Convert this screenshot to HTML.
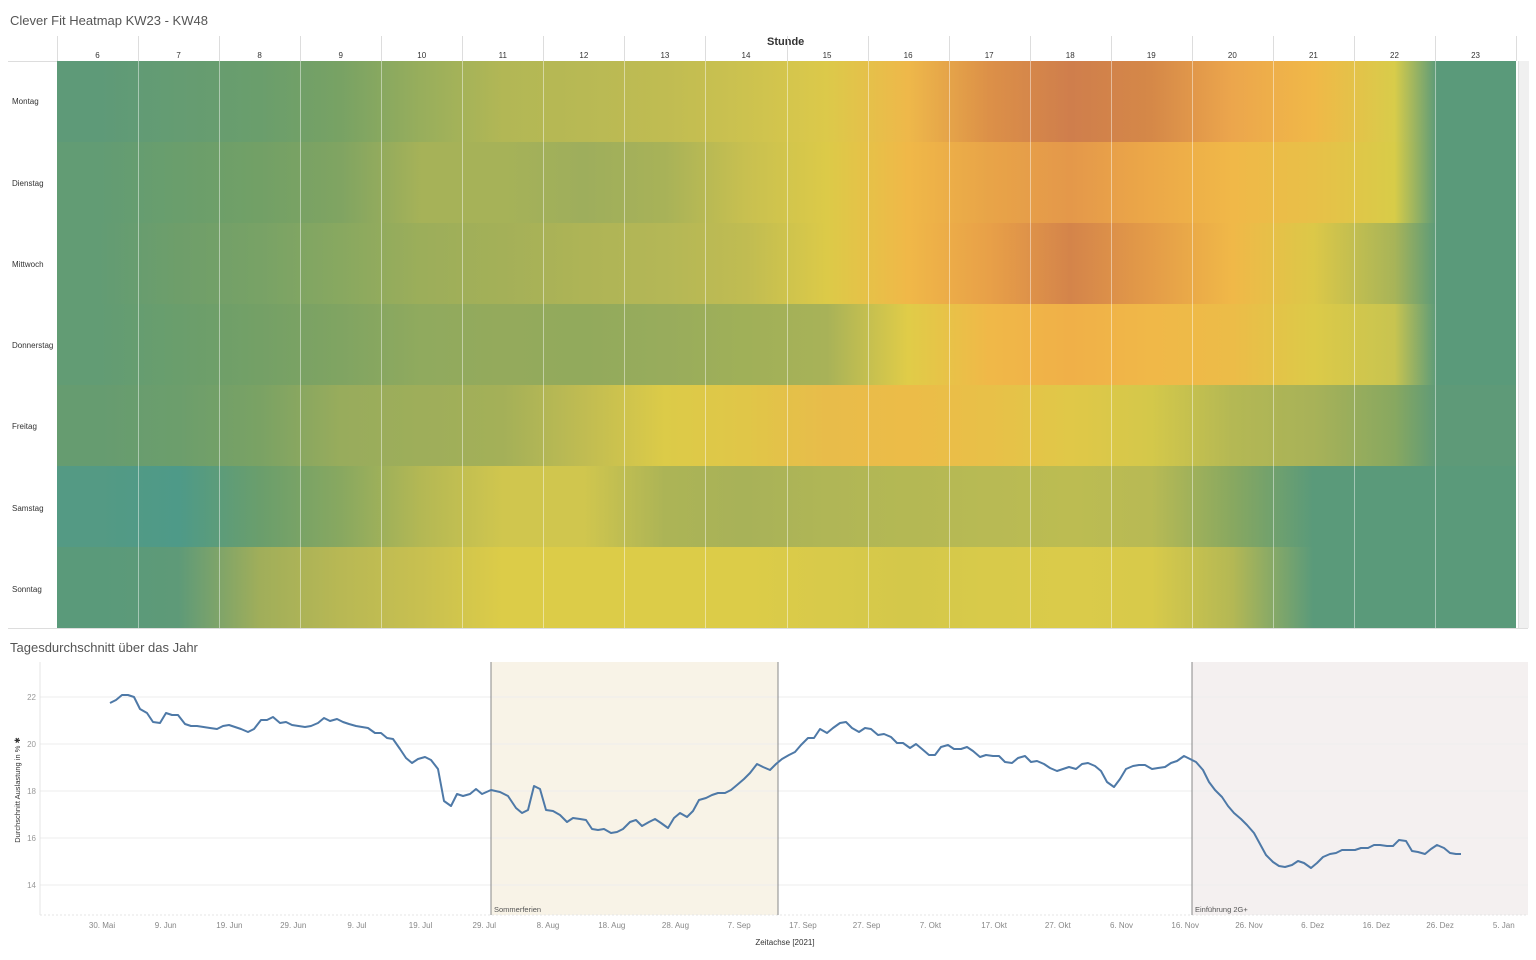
<!DOCTYPE html>
<html><head><meta charset="utf-8"><style>
body{margin:0;width:1536px;height:960px;background:#fff;font-family:"Liberation Sans",sans-serif;position:relative;overflow:hidden}
.t{position:absolute;color:#555;font-size:13px}
#hm{position:absolute;left:57px;top:61px;width:1459px;height:567px}
.row{height:81px;width:100%}
.vl{position:absolute;top:0;height:567px;width:1px;background:rgba(255,255,255,.45)}
.hl{position:absolute;font-size:8px;color:#333;width:81px;text-align:center;top:51px}
.rl{position:absolute;left:12px;font-size:8px;color:#333}
.hs{position:absolute;top:36px;height:25px;width:1px;background:#ddd}
</style></head><body>
<div class="t" style="left:10px;top:13px">Clever Fit Heatmap KW23 - KW48</div>
<div style="position:absolute;left:767px;top:36px;font-size:11px;color:#333;font-weight:bold">Stunde</div>
<div style="position:absolute;left:8px;top:61px;width:49px;height:1px;background:#ddd"></div>
<div style="position:absolute;left:1518px;top:61px;width:10px;height:567px;background:#f0f0f0;border-left:1px solid #ddd"></div>
<div style="position:absolute;left:8px;top:628px;width:1520px;height:1px;background:#ddd"></div>
<div id="hdr"></div>
<div id="hm"></div>
<div class="rl" style="top:97px">Montag</div>
<div class="rl" style="top:179px">Dienstag</div>
<div class="rl" style="top:260px">Mittwoch</div>
<div class="rl" style="top:341px">Donnerstag</div>
<div class="rl" style="top:422px">Freitag</div>
<div class="rl" style="top:504px">Samstag</div>
<div class="rl" style="top:585px">Sonntag</div>
<div class="t" style="left:10px;top:640px">Tagesdurchschnitt über das Jahr</div>
<svg style="position:absolute;left:0;top:0" width="1536" height="960">
<rect x="491" y="662" width="287" height="253" fill="#f8f3e7"/>
<rect x="1192" y="662" width="336" height="253" fill="#f4f0f0"/>
<g stroke="#eee" stroke-width="1">
<line x1="40" x2="1528" y1="697" y2="697"/><line x1="40" x2="1528" y1="744" y2="744"/>
<line x1="40" x2="1528" y1="791" y2="791"/><line x1="40" x2="1528" y1="838" y2="838"/>
<line x1="40" x2="1528" y1="885" y2="885"/></g>
<line x1="40" y1="662" x2="40" y2="915" stroke="#e4e4e4"/>
<line x1="40" y1="915" x2="1528" y2="915" stroke="#e4e4e4" stroke-dasharray="2,2"/>
<line x1="491" y1="662" x2="491" y2="915" stroke="#888"/>
<line x1="778" y1="662" x2="778" y2="915" stroke="#888"/>
<line x1="1192" y1="662" x2="1192" y2="915" stroke="#888"/>
<g font-size="8" fill="#999" text-anchor="end"><text x="36" y="700">22</text><text x="36" y="747">20</text><text x="36" y="794">18</text><text x="36" y="841">16</text><text x="36" y="888">14</text></g>
<text x="20" y="790" font-size="7.5" fill="#333" transform="rotate(-90 20 790)" text-anchor="middle">Durchschnitt Auslastung in % ✱</text>
<text x="494" y="912" font-size="7.5" fill="#555">Sommerferien</text>
<text x="1195" y="912" font-size="7.5" fill="#555">Einführung 2G+</text>
<g id="xl" font-size="8" fill="#888" text-anchor="middle"></g>
<text x="785" y="945" font-size="8" fill="#333" text-anchor="middle">Zeitachse [2021]</text>
<polyline fill="none" stroke="#4e79a7" stroke-width="2" stroke-linejoin="round" points="110,703 116,700 122,695 128,695 134,697 140,709 147,713 153,722 160,723 166,713 172,715 178,715 185,724 191,726 197,726 210,728 217,729 223,726 229,725 241,729 248,732 254,729 261,720 267,720 273,717 280,723 286,722 292,725 305,727 311,726 318,723 324,718 330,721 337,719 343,722 349,724 356,726 368,728 375,733 381,733 387,738 393,739 400,749 406,758 412,763 418,759 425,757 431,760 438,769 444,801 451,806 457,794 463,796 470,794 476,789 482,794 491,790 500,792 508,796 516,808 522,813 528,810 534,786 540,789 546,810 553,811 560,815 567,822 573,818 580,819 586,820 592,829 598,830 604,829 611,833 617,832 623,829 630,822 636,820 642,826 649,822 655,819 661,823 668,828 674,818 680,813 687,817 693,811 699,800 706,798 712,795 718,793 725,793 731,790 737,785 744,779 750,773 757,764 763,767 770,770 776,764 782,759 789,755 795,752 801,745 808,738 814,738 820,729 827,733 833,728 840,723 846,722 852,728 859,732 865,728 871,729 878,735 884,734 891,737 897,743 903,743 910,748 916,744 922,749 929,755 935,755 941,747 948,745 954,749 961,749 967,747 973,751 980,757 986,755 993,756 999,756 1005,762 1012,763 1018,758 1025,756 1031,762 1037,761 1044,764 1050,768 1057,771 1063,769 1069,767 1076,769 1082,764 1088,763 1095,766 1101,771 1107,782 1114,787 1120,779 1126,769 1133,766 1139,765 1145,765 1152,769 1158,768 1165,767 1171,763 1177,761 1184,756 1190,759 1196,762 1203,770 1209,782 1215,790 1222,797 1228,806 1234,813 1241,819 1247,825 1254,833 1260,844 1266,855 1273,862 1279,866 1285,867 1292,865 1298,861 1304,863 1311,868 1317,863 1323,857 1330,854 1336,853 1342,850 1349,850 1355,850 1361,848 1368,848 1374,845 1380,845 1387,846 1393,846 1399,840 1406,841 1412,851 1418,852 1425,854 1431,849 1437,845 1444,848 1450,853 1456,854 1461,854"/>
</svg>
<script>
var rows=[
["#5e9a78","#659c72","#6a9e6c","#78a264","#98ae5c","#b2b755","#b8b954","#c0bc52","#ccc24f","#dcc94a","#eeb84a","#dc9048","#cf7e4c","#d58848","#eca64c","#f0b848","#d8cc4a","#5a9a7a"],
["#629c74","#6a9e6c","#72a066","#80a462","#a6b258","#a6b258","#9eae5c","#a8b258","#c8c050","#dcca48","#f0b848","#e8a448","#e4984a","#eca848","#f0b848","#e8c048","#d8cc48","#5a9a7a"],
["#629c74","#6e9e6a","#78a266","#88a860","#9cae5a","#a4b058","#aeb456","#b4b756","#c0bc52","#dcca48","#f0b848","#e8a048","#d4844a","#e49c48","#f0b848","#dcc848","#a8b458","#5a9a7a"],
["#629c74","#6a9e6c","#74a066","#80a462","#90aa5e","#94aa5c","#92aa5c","#98ac5c","#a0b058","#a8b258","#e0cc48","#f0b848","#f0b048","#f0b848","#ecbc48","#dcca48","#c8c450","#5a9a7a"],
["#669c70","#6c9e6c","#7aa264","#98ac5c","#9eae5a","#a4b058","#c0bc52","#dccb48","#e0c648","#e8bc4a","#ecbc48","#e8c048","#e0c848","#d4c84a","#b4b854","#a8b258","#88a860","#5e9a78"],
["#549a84","#4e9a88","#6a9e6c","#88a860","#b4b854","#d0c64e","#d0c64e","#acb456","#a8b258","#b0b656","#b4b854","#b8ba54","#bcbc52","#b8ba54","#88a860","#5a9a7a","#5a9a7a","#5a9a7a"],
["#5a9a7a","#5e9a78","#a0ae5a","#b8b854","#c8c050","#dccc48","#dccc48","#dccc48","#dccc48","#d8ca4a","#d4c84a","#d8ca4a","#dacb4a","#d8ca4a","#b4b854","#5a9a7a","#5a9a7a","#5a9a7a"]];
var hm=document.getElementById('hm'),h='';
rows.forEach(function(r){var s=r.map(function(c,i){var p=(i==17)?94.6:(i+.5)/18*100;return c+' '+p.toFixed(2)+'%'}).join(',');h+='<div class="row" style="background:linear-gradient(to right,'+s+')"></div>'});
for(var i=1;i<18;i++)h+='<div class="vl" style="left:'+(i*81.06)+'px"></div>';
hm.innerHTML=h;
var hd='';for(var i=0;i<18;i++){hd+='<div class="hl" style="left:'+(57+i*81.06)+'px">'+(i+6)+'</div>';hd+='<div class="hs" style="left:'+(57+i*81.06)+'px"></div>'}
hd+='<div class="hs" style="left:1516px"></div>';
document.getElementById('hdr').innerHTML=hd;
var L=["30. Mai","9. Jun","19. Jun","29. Jun","9. Jul","19. Jul","29. Jul","8. Aug","18. Aug","28. Aug","7. Sep","17. Sep","27. Sep","7. Okt","17. Okt","27. Okt","6. Nov","16. Nov","26. Nov","6. Dez","16. Dez","26. Dez","5. Jan"],x='';
L.forEach(function(t,i){x+='<text x="'+(102+i*63.72).toFixed(1)+'" y="928">'+t+'</text>'});
document.getElementById('xl').innerHTML=x;
</script>
</body></html>
